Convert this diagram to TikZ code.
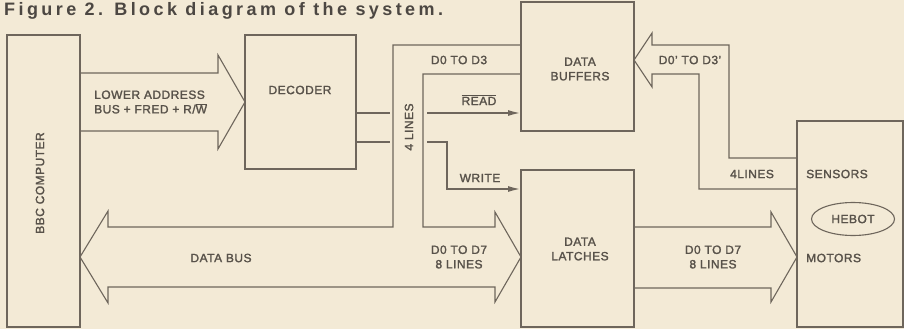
\documentclass[tikz,border=0pt]{standalone}
\usepackage{fontspec}
\setmainfont{Liberation Sans}
\newfontfamily\lblfont[LetterSpace=4, FakeBold=1.8]{Liberation Sans}
\newfontfamily\ttlfont[LetterSpace=19]{Liberation Sans}
\usetikzlibrary{arrows.meta,shapes.geometric}

\definecolor{paper}{RGB}{243,234,214}
\definecolor{ink}{RGB}{110,102,92}
\definecolor{txt}{RGB}{88,82,74}
\definecolor{ttl}{RGB}{76,71,66}

\tikzset{
  blk/.style={draw=ink, line width=1.1pt, rectangle, inner sep=0pt, outer sep=0pt},
  bus/.style={draw=ink, line width=1.1pt, line join=miter},
  sig/.style={draw=ink, line width=1.9pt},
  lbl/.style={text=txt, font=\lblfont\fontsize{12}{14.5}\selectfont, align=center, inner sep=0pt},
}

\begin{document}
\begin{tikzpicture}[x=1pt, y=-1pt]
    % Paper
    \fill[paper] (0,0) rectangle (904,329);

    % Title
    \node[anchor=west, inner sep=0pt, text=ttl, font=\ttlfont\bfseries\fontsize{18}{20}\selectfont] (title) at (4,11) {Figure 2. Block diagram of the system.};

    % Blocks
    \node[blk, minimum width=73, minimum height=292] (bbc) at (43.5,181) {};
    \node[blk, minimum width=111, minimum height=134] (dec) at (300.5,102) {};
    \node[blk, minimum width=113, minimum height=129] (buf) at (577.5,66.5) {};
    \node[blk, minimum width=113, minimum height=157] (lat) at (577.5,248.5) {};
    \node[blk, minimum width=106, minimum height=206] (rob) at (850,224) {};
    \node[blk, ellipse, minimum width=83, minimum height=33] (hebot) at (853,219) {};

    % Address bus
    \draw[bus] (bbc.east |- 0,73) -- (218,73) -- (218,55) -- (dec.west)
        -- (218,149) -- (218,131) -- (bbc.east |- 0,131);

    % Data bus, with the 4 lines up to the buffers
    \draw[bus] (buf.west |- 0,45) -- (393,45) -- (393,227) -- (108,227) -- (108,211)
        -- (bbc.east |- 0,257) -- (108,303) -- (108,287) -- (495,287) -- (495,302)
        -- (lat.west |- 0,257) -- (495,212) -- (495,227) -- (423,227) -- (423,74)
        -- (buf.west |- 0,74);

    % Latches to motors
    \draw[bus] (lat.east |- 0,227) -- (771,227) -- (771,212) -- (rob.west |- 0,257)
        -- (771,302) -- (771,288) -- (lat.east |- 0,288);

    % Sensors to buffers
    \draw[bus] (rob.west |- 0,158) -- (729,158) -- (729,45) -- (652,45) -- (652,33)
        -- (buf.east |- 0,60) -- (652,87) -- (652,74) -- (699,74) -- (699,189)
        -- (rob.west |- 0,189);

    % Read / write lines
    \coordinate (rdin) at (390,113);
    \coordinate (wrin) at (390,142);
    \coordinate (rdout) at (427,113);
    \coordinate (wrout) at (427,142);
    \draw[sig] (dec.east |- rdin) -- (rdin);
    \draw[sig] (dec.east |- wrin) -- (wrin);
    \draw[sig, -{Latex[length=13pt,width=6pt]}] (rdout) -- (buf.west |- rdout);
    \draw[sig, -{Latex[length=13pt,width=6pt]}] (wrout) -- (447,142) -- (447,189) -- (lat.west |- 0,189);

    % Labels
    \node[lbl, rotate=90] (bbctxt) at (40,183) {BBC COMPUTER};
    \node[lbl, anchor=west, align=left] (addrtxt) at (94,102) {LOWER ADDRESS\\BUS + FRED + R/$\overline{\hbox{W}}$};
    \node[lbl] (dectxt) at (300,90) {DECODER};
    \node[lbl, rotate=90] (fourtxt) at (409,127) {4 LINES};
    \node[lbl] (d03txt) at (459,60) {D0 TO D3};
    \node[lbl] (rdtxt) at (479,100) {$\overline{\hbox{READ}}$};
    \node[lbl] (wrtxt) at (480,178) {WRITE};
    \node[lbl] (buftxt) at (580,69) {DATA\\BUFFERS};
    \node[lbl] (snstxt) at (690,60) {D0’ TO D3’};
    \node[lbl] (fourbtxt) at (752,174) {4LINES};
    \node[lbl, anchor=west] (sentxt) at (806,174) {SENSORS};
    \node[lbl] (hebtxt) at (hebot) {HEBOT};
    \node[lbl, anchor=west] (mottxt) at (806,258) {MOTORS};
    \node[lbl] (lattxt) at (580,249) {DATA\\LATCHES};
    \node[lbl] (d07atxt) at (459,257) {D0 TO D7\\8 LINES};
    \node[lbl] (d07btxt) at (713,257) {D0 TO D7\\8 LINES};
    \node[lbl] (bustxt) at (221,258) {DATA BUS};
\end{tikzpicture}
\end{document}
